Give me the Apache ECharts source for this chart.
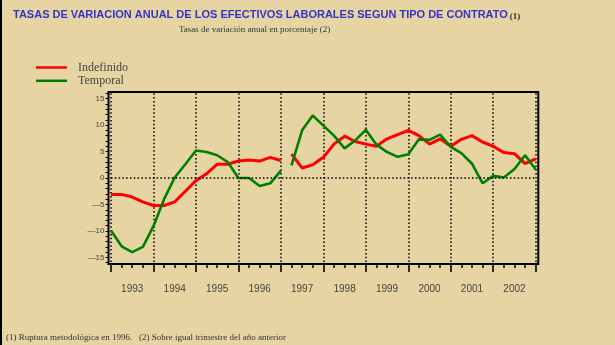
<!DOCTYPE html>
<html lang="es">
<head>
    <meta charset="UTF-8">
    <script src="https://cdn.jsdelivr.net/npm/echarts@6/dist/echarts.min.js"></script>
    <style>
        html, body {
            margin: 0;
            padding: 0;
            background-color: #e6d4a2;
        }
        body {
            box-shadow: inset 2px 0 0 #000;
        }
        #chart {
            width: 615px;
            height: 345px;
        }
    </style>
</head>
<body>
    <div id="chart"></div>

    <script>
        // Años (etiquetas del eje X), un tramo de 4 trimestres cada uno
        const years = ['1993', '1994', '1995', '1996', '1997', '1998', '1999', '2000', '2001', '2002'];

        // Trimestres 0..16 (antes de la ruptura de 1996) y 17..40 (después)
        const indefinidoAntes = [-3.1, -3.1, -3.6, -4.5, -5.2, -5.2, -4.5, -2.5, -0.5, 0.8, 2.6, 2.6, 3.2, 3.4, 3.2, 3.9, 3.3];
        const indefinidoDespues = [4.5, 1.9, 2.5, 3.9, 6.4, 7.9, 6.9, 6.4, 6.0, 7.4, 8.2, 9.0, 8.0, 6.4, 7.4, 6.0, 7.3, 8.0, 6.8, 6.0, 4.8, 4.6, 2.7, 3.6];
        const temporalAntes = [-9.9, -12.9, -14.0, -13.0, -9.1, -4.0, 0.1, 2.6, 5.2, 4.9, 4.3, 3.0, 0.0, 0.0, -1.5, -1.0, 1.4];
        const temporalDespues = [2.4, 9.0, 11.8, 9.9, 8.0, 5.6, 7.1, 9.1, 6.3, 4.9, 4.0, 4.5, 7.3, 7.2, 8.2, 5.9, 4.7, 2.7, -1.0, 0.4, 0.1, 1.7, 4.3, 1.6];

        const yTicks = [-15, -10, -5, 0, 5, 10, 15];
        const breakIndex = indefinidoAntes.length;

        const SANS = 'Liberation Sans, Arial, sans-serif';
        const SERIF = 'Liberation Serif, Times New Roman, serif';

        function toPairs(values, offset) {
            return values.map((v, i) => [i + offset, v]);
        }

        const chart = echarts.init(document.getElementById('chart'), null, { renderer: 'canvas' });

        const dotted = { color: '#000', width: 1.5, type: [1.5, 2.3] };

        const lineSeries = (name, values, offset, color, width) => ({
            name: name,
            type: 'line',
            xAxisIndex: 1,
            yAxisIndex: 1,
            showSymbol: false,
            silent: true,
            lineStyle: { color: color, width: width },
            itemStyle: { color: color },
            data: toPairs(values, offset)
        });

        const option = {
            backgroundColor: 'transparent',
            animation: false,
            title: [
                {
                    text: '{a|TASAS DE VARIACION ANUAL DE LOS EFECTIVOS LABORALES SEGUN TIPO DE CONTRATO}{b|(1)}',
                    left: 8,
                    top: 4,
                    textStyle: {
                        rich: {
                            a: { fontFamily: SANS, fontWeight: 'bold', fontSize: 11, color: '#3434c8' },
                            b: { fontFamily: SERIF, fontSize: 9, color: '#333', padding: [3, 0, 0, 2] }
                        }
                    }
                },
                {
                    text: 'Tasas de variación anual en porcentaje (2)',
                    left: 174,
                    top: 20,
                    textStyle: { fontFamily: SERIF, fontSize: 9, fontWeight: 'normal', color: '#333' }
                },
                {
                    text: '(1) Ruptura metodológica en 1996.   (2) Sobre igual trimestre del año anterior',
                    left: 1,
                    top: 328,
                    textStyle: { fontFamily: SERIF, fontSize: 9, fontWeight: 'normal', color: '#333' }
                }
            ],
            legend: {
                orient: 'vertical',
                left: 31,
                top: 56,
                icon: 'rect',
                itemWidth: 31,
                itemHeight: 2.5,
                itemGap: 0.3,
                selectedMode: false,
                data: ['Indefinido', 'Temporal'],
                textStyle: { fontFamily: SERIF, fontSize: 12, color: '#444', lineHeight: 13, padding: [0, 0, 0, 6] }
            },
            grid: [
                // marco
                { left: 108.5, right: 76.7, top: 92, bottom: 81, show: true, borderColor: '#000', borderWidth: 2, backgroundColor: 'transparent' },
                // datos
                { left: 111, right: 79.3, top: 93.3, bottom: 82.3 }
            ],
            xAxis: [
                { gridIndex: 0, type: 'value', show: false, min: 0, max: 1 },
                {
                    gridIndex: 1,
                    type: 'value',
                    position: 'bottom',
                    min: 0,
                    max: 40,
                    interval: 4,
                    offset: 1.3,
                    axisLine: { show: false, onZero: false },
                    axisTick: { show: true, length: 8, lineStyle: { color: '#000', width: 1.6 } },
                    minorTick: { show: true, splitNumber: 4, length: 4, lineStyle: { color: '#000', width: 1.5 } },
                    axisLabel: { show: false },
                    splitLine: { show: true, lineStyle: dotted },
                    minorSplitLine: { show: false }
                },
                {
                    gridIndex: 1,
                    type: 'category',
                    position: 'bottom',
                    data: years,
                    boundaryGap: true,
                    axisLine: { show: false, onZero: false },
                    axisTick: { show: false },
                    splitLine: { show: false },
                    axisLabel: { margin: 22, fontFamily: SANS, fontSize: 10, color: '#444' }
                }
            ],
            yAxis: [
                { gridIndex: 0, type: 'value', show: false, min: 0, max: 1 },
                {
                    gridIndex: 1,
                    type: 'value',
                    position: 'left',
                    min: -16,
                    max: 16,
                    interval: 1,
                    offset: 2.5,
                    axisLine: { show: false, onZero: false },
                    axisTick: { show: true, length: 3, lineStyle: { color: '#000', width: 1 } },
                    splitLine: { show: false },
                    axisLabel: {
                        margin: 4,
                        fontFamily: SANS,
                        fontSize: 8,
                        color: '#444',
                        formatter: function (v) {
                            if (yTicks.indexOf(v) < 0) return '';
                            return v < 0 ? '\u2014' + (-v) : String(v);
                        }
                    }
                }
            ],
            series: [
                Object.assign(lineSeries('Indefinido', indefinidoAntes, 0, '#ff0000', 3), {
                    markLine: {
                        silent: true,
                        symbol: 'none',
                        label: { show: false },
                        lineStyle: dotted,
                        data: [{ yAxis: 0 }]
                    }
                }),
                lineSeries('Indefinido', indefinidoDespues, breakIndex, '#ff0000', 3),
                lineSeries('Temporal', temporalAntes, 0, '#008000', 2.6),
                lineSeries('Temporal', temporalDespues, breakIndex, '#008000', 2.6)
            ]
        };

        chart.setOption(option);

        window.addEventListener('resize', function () {
            chart.resize();
        });
    </script>
</body>
</html>
